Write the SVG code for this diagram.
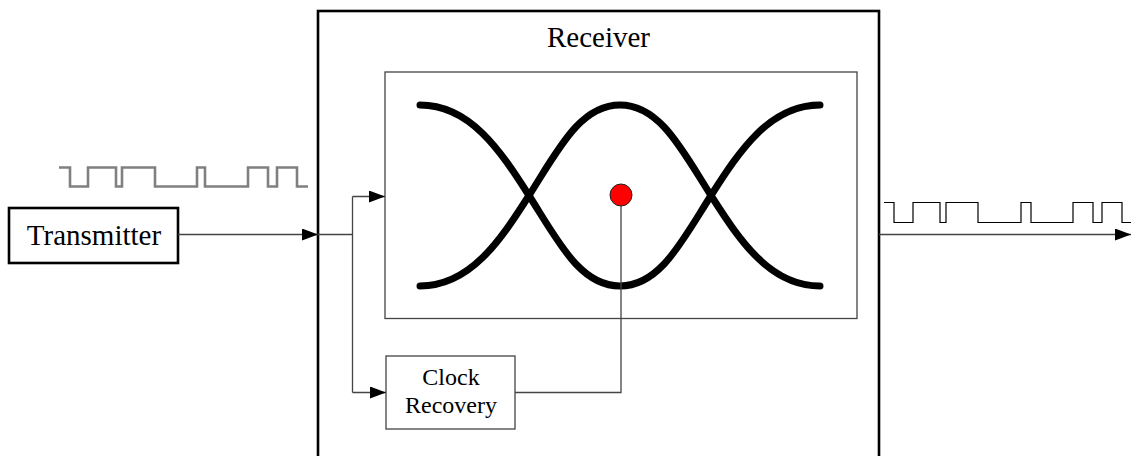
<svg xmlns="http://www.w3.org/2000/svg" width="1131" height="456" viewBox="0 0 1131 456">
  <style>
    .lbl { font-family: "Liberation Serif", "Times New Roman", serif; fill: #000; text-anchor: middle; }
    .conn { fill: none; stroke: #444; stroke-width: 1.3; }
    .eye { fill: none; stroke: #000; stroke-width: 7; stroke-linecap: round; }
  </style>
  <defs>
    <marker id="arrow" viewBox="0 0 16 12" refX="16" refY="6" markerWidth="16" markerHeight="12" markerUnits="userSpaceOnUse" orient="auto">
      <path d="M0,0 L16,6 L0,12 Z" fill="#000"/>
    </marker>
  </defs>

  <rect width="1131" height="456" fill="#fff"/>

  <!-- outer receiver frame -->
  <g id="receiver">
    <rect x="318" y="11" width="561" height="460" fill="none" stroke="#000" stroke-width="2.6"/>
    <text class="lbl" x="598.5" y="47" font-size="29">Receiver</text>
  </g>

  <!-- eye diagram panel -->
  <g id="eye-diagram">
    <rect x="385" y="72" width="472" height="246.5" fill="none" stroke="#444" stroke-width="1.3"/>
    <path class="eye" d="M420,105 C470,105 500,150 529,195.5 C558,241 580,286 620,286 C660,286 682,241 711,195.5 C740,150 770,105 820,105"/>
    <path class="eye" d="M420,286 C470,286 500,241 529,195.5 C558,150 580,105 620,105 C660,105 682,150 711,195.5 C740,241 770,286 820,286"/>
  </g>

  <!-- input bit stream -->
  <g id="input-signal">
    <path d="M59,167.5 H70 V186.5 H88 V167.5 H116 V186.5 H122 V167.5 H155 V186.5 H197 V167.5 H205 V186.5 H248 V167.5 H268 V186.5 H277 V167.5 H297 V186.5 H308" fill="none" stroke="#808080" stroke-width="2.6"/>
  </g>

  <!-- recovered bit stream -->
  <g id="output-signal">
    <path d="M884,202.5 H894 V222.5 H913 V202.5 H940 V222.5 H946 V202.5 H978 V222.5 H1021 V202.5 H1031 V222.5 H1073 V202.5 H1093 V222.5 H1102 V202.5 H1122 V222.5 H1131" fill="none" stroke="#000" stroke-width="1.2"/>
  </g>

  <g id="transmitter">
    <rect x="9" y="208" width="169" height="55" fill="#fff" stroke="#000" stroke-width="2.6"/>
    <text class="lbl" x="94" y="245" font-size="29">Transmitter</text>
  </g>

  <g id="clock-recovery">
    <rect x="386" y="356" width="129" height="73" fill="#fff" stroke="#444" stroke-width="1.3"/>
    <text class="lbl" x="451" y="385" font-size="24">Clock</text>
    <text class="lbl" x="451" y="413" font-size="24">Recovery</text>
  </g>

  <g id="connectors">
    <path class="conn" d="M178,234.5 H318" marker-end="url(#arrow)"/>
    <path class="conn" d="M318,234.5 H352.5 V392.5"/>
    <path class="conn" d="M352.5,196.5 V234.5"/>
    <path class="conn" d="M352.5,196.5 H385" marker-end="url(#arrow)"/>
    <path class="conn" d="M352.5,392.5 H386" marker-end="url(#arrow)"/>
    <path class="conn" d="M515,392.5 H621 V206"/>
    <path class="conn" d="M879,234.5 H1131" marker-end="url(#arrow)"/>
  </g>

  <!-- sampling point -->
  <g id="sample-point">
    <circle cx="621" cy="195" r="11" fill="#f00" stroke="#222" stroke-width="1"/>
  </g>
</svg>
